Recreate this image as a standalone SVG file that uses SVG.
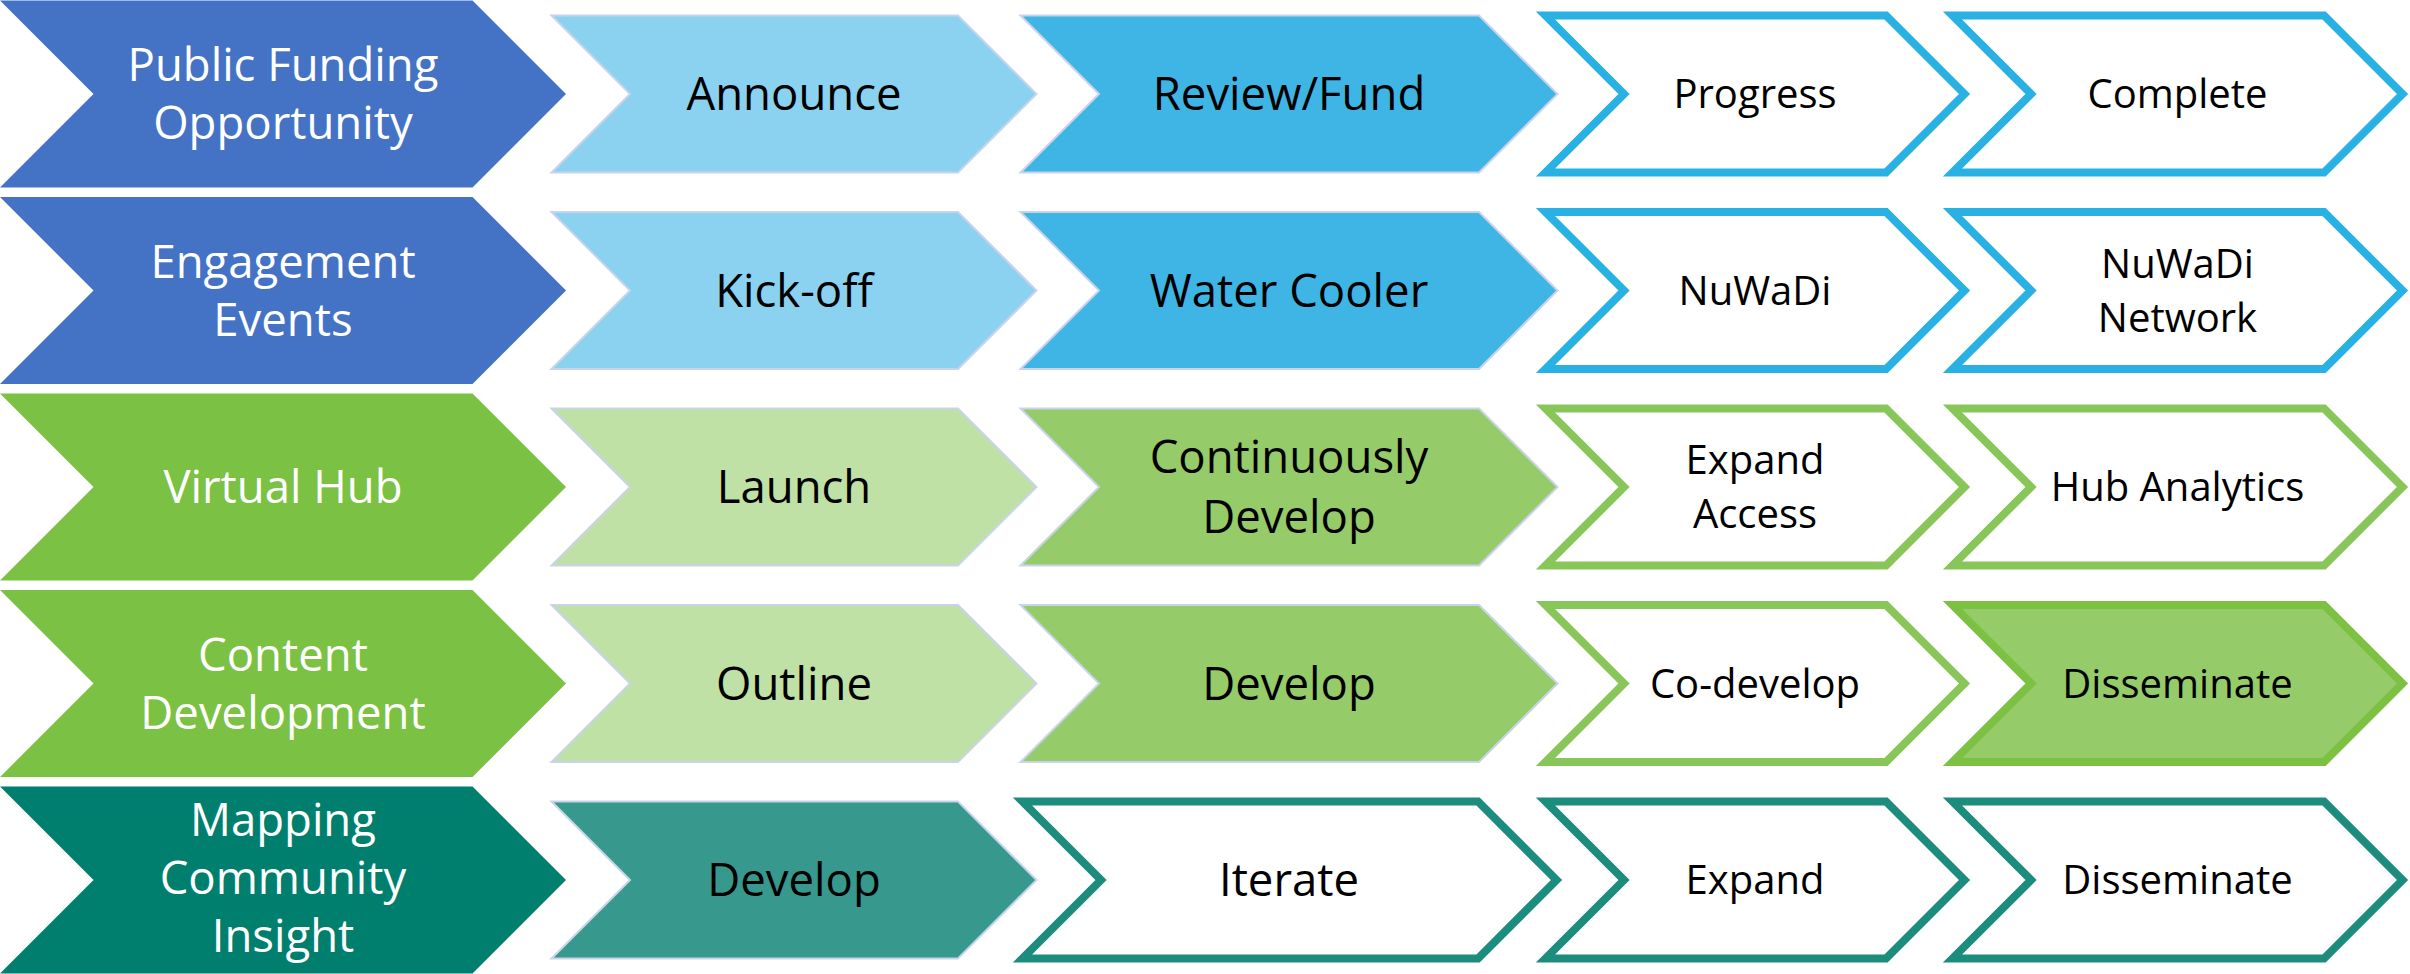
<svg xmlns="http://www.w3.org/2000/svg" width="2410" height="974" viewBox="0 0 2410 974">
<style>
text{font-family:"Open Sans","Noto Sans",sans-serif;text-anchor:middle}
.tw{fill:#fff;font-size:45.5px}
.tl{fill:#000;font-size:45.5px}
.ts{fill:#000;font-size:40px}
.c1b{fill:#4472C4}
.c2b{fill:#8AD2F0;stroke:#C9D3EA;stroke-width:2}
.c3b{fill:#3EB5E4;stroke:#C9D3EA;stroke-width:2}
.ob{fill:#fff;stroke:#29B1E4;stroke-width:8}
.c1g{fill:#7BC143}
.c2g{fill:#BFE1A5;stroke:#C9D3EA;stroke-width:2}
.c3g{fill:#96CB69;stroke:#C9D3EA;stroke-width:2}
.og{fill:#fff;stroke:#88C65A;stroke-width:8}
.fg{fill:#95CB69;stroke:#7DC142;stroke-width:8}
.c1t{fill:#007F6E}
.c2t{fill:#37998E;stroke:#C9D3EA;stroke-width:2}
.ot{fill:#fff;stroke:#1C8C7D;stroke-width:8}
</style>
<defs>
<path id="p1" d="M0,-93.5 L472.5,-93.5 L566,0 L472.5,93.5 L0,93.5 L93.5,0 Z"/>
<path id="p2" d="M551.5,-78.5 L958,-78.5 L1036.5,0 L958,78.5 L551.5,78.5 L630,0 Z"/>
<path id="p3" d="M1020.5,-78.5 L1479,-78.5 L1557.5,0 L1479,78.5 L1020.5,78.5 L1099,0 Z"/>
<path id="p3o" d="M1022.5,-78.5 L1478,-78.5 L1556.5,0 L1478,78.5 L1022.5,78.5 L1101,0 Z"/>
<path id="p4" d="M1545.5,-78.5 L1886,-78.5 L1964.5,0 L1886,78.5 L1545.5,78.5 L1624,0 Z"/>
<path id="p5" d="M1952.5,-78.5 L2324,-78.5 L2402.5,0 L2324,78.5 L1952.5,78.5 L2031,0 Z"/>
</defs>
<g id="connectors"/>

<!-- Row 1 -->
<g transform="translate(0,94)">
<g id="r1c1"><use href="#p1" class="c1b"/><text class="tw" x="283" y="-13">Public Funding</text><text class="tw" x="283" y="45">Opportunity</text></g>
<g id="r1c2"><use href="#p2" class="c2b"/><text class="tl" x="794" y="16">Announce</text></g>
<g id="r1c3"><use href="#p3" class="c3b"/><text class="tl" x="1289" y="16">Review/Fund</text></g>
<g id="r1c4"><use href="#p4" class="ob"/><text class="ts" x="1755" y="14">Progress</text></g>
<g id="r1c5"><use href="#p5" class="ob"/><text class="ts" x="2177.5" y="14">Complete</text></g>
</g>

<!-- Row 2 -->
<g transform="translate(0,290.5)">
<g id="r2c1"><use href="#p1" class="c1b"/><text class="tw" x="283" y="-13">Engagement</text><text class="tw" x="283" y="45">Events</text></g>
<g id="r2c2"><use href="#p2" class="c2b"/><text class="tl" x="794" y="16">Kick-off</text></g>
<g id="r2c3"><use href="#p3" class="c3b"/><text class="tl" x="1289" y="16">Water Cooler</text></g>
<g id="r2c4"><use href="#p4" class="ob"/><text class="ts" x="1755" y="14">NuWaDi</text></g>
<g id="r2c5"><use href="#p5" class="ob"/><text class="ts" x="2177.5" y="-13">NuWaDi</text><text class="ts" x="2177.5" y="41">Network</text></g>
</g>

<!-- Row 3 -->
<g transform="translate(0,487)">
<g id="r3c1"><use href="#p1" class="c1g"/><text class="tw" x="283" y="16">Virtual Hub</text></g>
<g id="r3c2"><use href="#p2" class="c2g"/><text class="tl" x="794" y="16">Launch</text></g>
<g id="r3c3"><use href="#p3" class="c3g"/><text class="tl" x="1289" y="-14">Continuously</text><text class="tl" x="1289" y="46">Develop</text></g>
<g id="r3c4"><use href="#p4" class="og"/><text class="ts" x="1755" y="-13">Expand</text><text class="ts" x="1755" y="41">Access</text></g>
<g id="r3c5"><use href="#p5" class="og"/><text class="ts" x="2177.5" y="14">Hub Analytics</text></g>
</g>

<!-- Row 4 -->
<g transform="translate(0,683.5)">
<g id="r4c1"><use href="#p1" class="c1g"/><text class="tw" x="283" y="-13">Content</text><text class="tw" x="283" y="45">Development</text></g>
<g id="r4c2"><use href="#p2" class="c2g"/><text class="tl" x="794" y="16">Outline</text></g>
<g id="r4c3"><use href="#p3" class="c3g"/><text class="tl" x="1289" y="16">Develop</text></g>
<g id="r4c4"><use href="#p4" class="og"/><text class="ts" x="1755" y="14">Co-develop</text></g>
<g id="r4c5"><use href="#p5" class="fg"/><text class="ts" x="2177.5" y="14">Disseminate</text></g>
</g>

<!-- Row 5 -->
<g transform="translate(0,880)">
<g id="r5c1"><use href="#p1" class="c1t"/><text class="tw" x="283" y="-44">Mapping</text><text class="tw" x="283" y="14">Community</text><text class="tw" x="283" y="72">Insight</text></g>
<g id="r5c2"><use href="#p2" class="c2t"/><text class="tl" x="794" y="16">Develop</text></g>
<g id="r5c3"><use href="#p3o" class="ot"/><text class="tl" x="1289" y="16">Iterate</text></g>
<g id="r5c4"><use href="#p4" class="ot"/><text class="ts" x="1755" y="14">Expand</text></g>
<g id="r5c5"><use href="#p5" class="ot"/><text class="ts" x="2177.5" y="14">Disseminate</text></g>
</g>
</svg>
